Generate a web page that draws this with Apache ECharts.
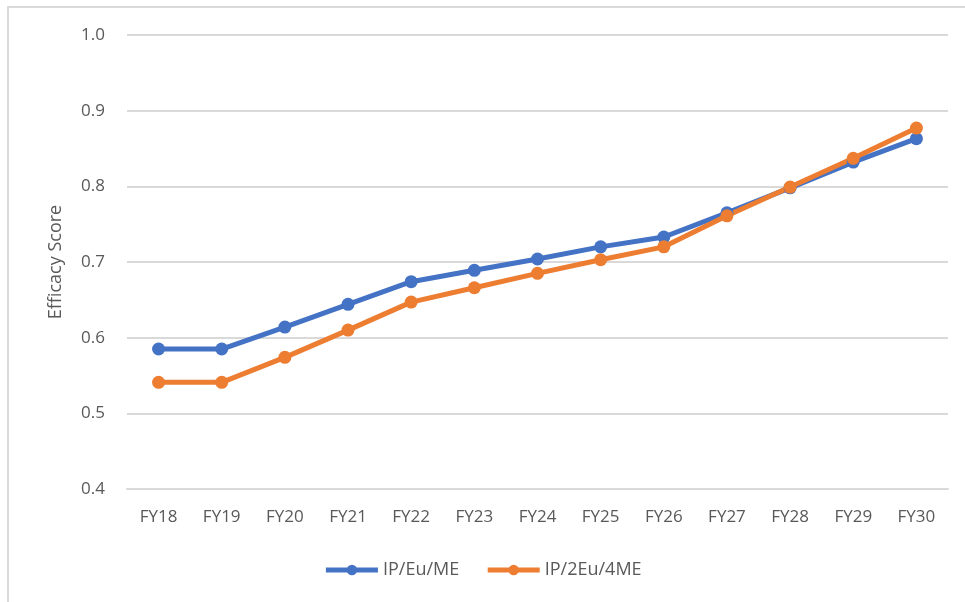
<!DOCTYPE html>
<html>
<head>
<meta charset="utf-8">
<script src="https://cdn.jsdelivr.net/npm/echarts@6/dist/echarts.min.js"></script>
<style>
  html, body { margin: 0; padding: 0; background: #fff; }
  #main { width: 965px; height: 602px; }
</style>
</head>
<body>
<div id="main"></div>
<script>
const years = ['FY18', 'FY19', 'FY20', 'FY21', 'FY22', 'FY23', 'FY24', 'FY25', 'FY26', 'FY27', 'FY28', 'FY29', 'FY30'];
const ipEuMe = [0.585, 0.585, 0.614, 0.644, 0.674, 0.689, 0.704, 0.720, 0.733, 0.765, 0.798, 0.832, 0.863];
const ip2Eu4Me = [0.541, 0.541, 0.574, 0.610, 0.647, 0.666, 0.685, 0.703, 0.720, 0.761, 0.799, 0.837, 0.877];

const chart = echarts.init(document.getElementById('main'));
const font = '"Open Sans", "Noto Sans", sans-serif';

chart.setOption({
  animation: false,
  textStyle: { fontFamily: font },
  graphic: [
    {
      type: 'rect',
      shape: { x: 8, y: 7, width: 1000, height: 700 },
      style: { fill: 'none', stroke: '#d9d9d9', lineWidth: 2 },
      silent: true
    }
  ],
  grid: { left: 127, right: 17, top: 35, bottom: 113 },
  legend: {
    bottom: 18,
    left: 'center',
    itemWidth: 52,
    itemHeight: 13,
    itemGap: 26,
    textStyle: { color: '#595959', fontSize: 18, fontFamily: font },
    lineStyle: { width: 5 },
    data: ['IP/Eu/ME', 'IP/2Eu/4ME']
  },
  xAxis: {
    type: 'category',
    data: years,
    boundaryGap: true,
    axisLine: { show: true, lineStyle: { color: '#d9d9d9', width: 2 } },
    axisTick: { show: false },
    axisLabel: { color: '#595959', fontSize: 17, margin: 20 }
  },
  yAxis: {
    type: 'value',
    min: 0.4,
    max: 1.0,
    interval: 0.1,
    name: 'Efficacy Score',
    nameLocation: 'middle',
    nameGap: 62,
    nameTextStyle: { color: '#595959', fontSize: 18 },
    axisLine: { show: false },
    axisTick: { show: false },
    axisLabel: { color: '#595959', fontSize: 17, margin: 22, formatter: v => v.toFixed(1) },
    splitLine: { lineStyle: { color: '#d9d9d9', width: 2 } }
  },
  series: [
    {
      name: 'IP/Eu/ME',
      type: 'line',
      data: ipEuMe,
      symbol: 'circle',
      symbolSize: 13,
      lineStyle: { width: 5, color: '#4472c4' },
      itemStyle: { color: '#4472c4' }
    },
    {
      name: 'IP/2Eu/4ME',
      type: 'line',
      data: ip2Eu4Me,
      symbol: 'circle',
      symbolSize: 13,
      lineStyle: { width: 5, color: '#ed7d31' },
      itemStyle: { color: '#ed7d31' }
    }
  ]
});
</script>
</body>
</html>
